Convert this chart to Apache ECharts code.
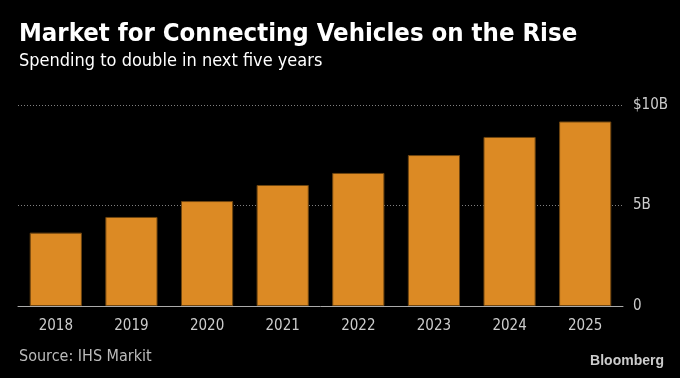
<!DOCTYPE html>
<html><head><meta charset="utf-8">
<script src="https://cdn.jsdelivr.net/npm/echarts@6/dist/echarts.min.js"></script>
<style>html,body{margin:0;padding:0;background:#000;}#c{width:680px;height:378px;}</style>
</head><body><div id="c"></div>
<script>
const categories = ['2018','2019','2020','2021','2022','2023','2024','2025'];
const spending = [3.65, 4.43, 5.22, 6.02, 6.62, 7.51, 8.41, 9.18];
const yTicks = {0:'0', 5:'5B', 10:'$10B'};
const titleText = 'Market for Connecting Vehicles on the Rise';
const subtitleText = 'Spending to double in next five years';
const sourceText = 'Source: IHS Markit';
const FONT = '"DejaVu Sans Condensed","DejaVu Sans",sans-serif';
const chart = echarts.init(document.getElementById('c'));
chart.setOption({
  backgroundColor: '#000',
  animation: false,
  title: [
    {text: titleText, left: 19, top: 21, padding: 0, textStyle: {color:'#fff', fontSize: 25.5, fontWeight:'bold', fontFamily: FONT}},
    {text: subtitleText, left: 19, top: 52, padding: 0, textStyle: {color:'#fff', fontSize: 18, fontWeight:'normal', fontFamily: FONT}},
    {text: sourceText, left: 19, top: 349, padding: 0, textStyle: {color:'#bbb', fontSize: 16, fontWeight:'normal', fontFamily: FONT}},
    {text: 'Bloomberg', right: 16, top: 354, padding: 0, textStyle: {color:'#ccc', fontSize: 14, fontWeight:'bold', fontFamily: '"Liberation Sans Narrow","Liberation Sans",sans-serif'}}
  ],
  grid: {left: 18, right: 57, top: 105, bottom: 72, containLabel: false},
  xAxis: {
    type: 'category', data: categories,
    axisLine: {lineStyle: {color:'#aaa', width: 1}},
    axisTick: {alignWithLabel: true, length: 5, lineStyle: {color:'#aaa'}},
    axisLabel: {color:'#ccc', fontSize: 15, margin: 13, fontFamily: FONT}
  },
  yAxis: {
    type: 'value', position: 'right', min: 0, max: 10, interval: 5,
    axisLine: {show:false}, axisTick: {show:false},
    axisLabel: {color:'#ccc', fontSize: 15, margin: 10, fontFamily: FONT, formatter: v => yTicks[v]},
    splitLine: {lineStyle: {color:'#808080', type:[1,2], width: 1}}
  },
  series: [{
    type: 'bar', data: spending, barCategoryGap: '31%',
    itemStyle: {color:'#dc8a24', borderColor:'#6e4510', borderWidth: 1}
  }]
});
</script></body></html>
